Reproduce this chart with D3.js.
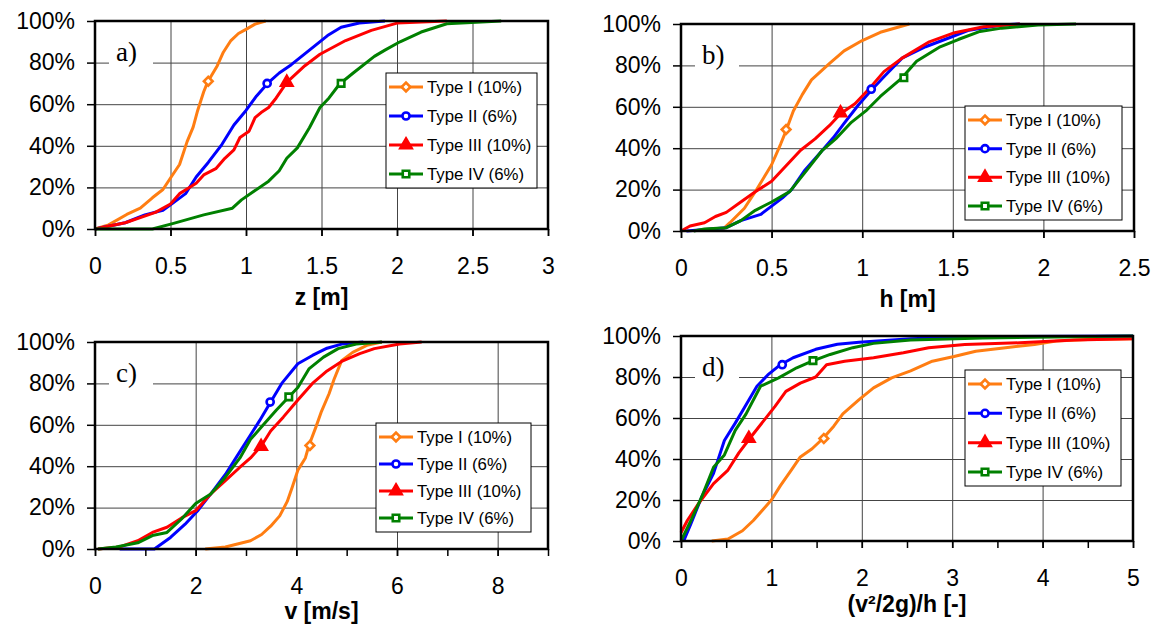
<!DOCTYPE html>
<html>
<head>
<meta charset="utf-8">
<script src="https://cdn.jsdelivr.net/npm/d3@7"></script>
<style>
  body { margin: 0; background: #fff; }
  svg { display: block; font-family: "Liberation Sans", Arial, sans-serif; }
</style>
</head>
<body>
<div id="chart"></div>
<script>
// series names, shared by all four panels
const seriesNames = ["Type I (10%)", "Type II (6%)", "Type III (10%)", "Type IV (6%)"];
const yTicks = [0, 20, 40, 60, 80, 100];

// a) z [m] : [x, cumulative %]
const aTypeI = [[0,0],[0.09,2],[0.21,7],[0.3,10],[0.38,15],[0.45,19],[0.5,24.5],[0.56,31],[0.61,42],[0.65,49],[0.68,57],[0.72,66],[0.745,70.5],[0.81,78.5],[0.85,85],[0.9,90.6],[0.95,94],[1.0,96],[1.06,98.5],[1.13,100]];
const aTypeII = [[0,0],[0.2,3],[0.33,6.8],[0.45,9],[0.5,11.6],[0.6,17],[0.67,25],[0.75,32],[0.84,40.6],[0.92,50],[1.0,57],[1.07,64],[1.15,70.5],[1.22,75],[1.3,79],[1.42,86],[1.54,93],[1.63,97],[1.75,99],[1.92,100]];
const aTypeIII = [[0,0],[0.2,3],[0.4,8],[0.5,12],[0.56,17],[0.62,19.7],[0.67,22],[0.72,26],[0.8,29],[0.86,34],[0.92,38],[0.96,44],[1.02,47],[1.06,53.5],[1.1,56],[1.15,58.4],[1.2,63],[1.27,70.5],[1.39,78.5],[1.49,84],[1.66,90.6],[1.83,95.5],[2.0,99],[2.33,100]];
const aTypeIV = [[0,0],[0.38,0],[0.52,2.7],[0.72,6.8],[0.91,10],[0.97,14],[1.05,18],[1.15,23],[1.22,28],[1.27,34],[1.34,39],[1.42,48.7],[1.49,58.4],[1.55,63],[1.62,69.7],[1.71,75],[1.85,83],[1.92,86],[2.02,90],[2.16,94.7],[2.33,98.7],[2.69,100]];
const aMarkers = [[0.75,71],[1.14,70],[1.27,70.5],[1.63,70]];
const aXTicks = [0, 0.5, 1, 1.5, 2, 2.5, 3];

// b) h [m]
const bTypeI = [[0.22,0],[0.27,4],[0.35,11],[0.41,19],[0.5,32],[0.55,42],[0.58,48.5],[0.62,58],[0.67,66],[0.72,73],[0.82,81],[0.9,87],[1.0,92],[1.1,96],[1.26,100]];
const bTypeII = [[0.03,0],[0.25,1.6],[0.33,5],[0.44,8],[0.5,12],[0.56,16],[0.61,20],[0.68,29],[0.76,37],[0.84,45],[0.9,52],[0.98,61],[1.05,68],[1.12,74.5],[1.22,83.5],[1.35,89],[1.47,93],[1.59,97],[1.77,99.5],[1.87,100]];
const bTypeIII = [[0,0],[0.05,2.4],[0.13,4],[0.19,7],[0.25,9],[0.33,14],[0.41,19],[0.5,24],[0.58,31.5],[0.66,39],[0.74,44.5],[0.82,51],[0.88,56.6],[0.96,61.5],[1.04,68.8],[1.12,77],[1.22,83.5],[1.37,91.4],[1.51,95.8],[1.67,98.7],[1.87,100]];
const bTypeIV = [[0.07,0],[0.13,1],[0.25,1.6],[0.33,5],[0.41,10],[0.5,14],[0.6,19],[0.7,30],[0.78,39],[0.86,45],[0.94,52.5],[1.02,58],[1.1,65],[1.22,74],[1.3,82],[1.43,89],[1.53,92.5],[1.65,96.4],[1.77,98],[1.97,99.5],[2.18,100]];
const bMarkers = [[0.58,49],[1.05,68.5],[0.88,57],[1.23,74]];
const bXTicks = [0, 0.5, 1, 1.5, 2, 2.5];

// c) v [m/s]
const cTypeI = [[2.19,0],[2.59,1],[3.09,4],[3.31,7],[3.49,11],[3.67,16],[3.82,23],[3.92,30],[4.03,38],[4.18,44],[4.25,50],[4.39,59],[4.5,66.5],[4.65,75],[4.75,82],[4.9,91],[5.12,95],[5.4,98.4],[5.7,100]];
const cTypeII = [[0.49,0],[1.18,0],[1.5,5.6],[1.79,12],[2.04,18.5],[2.3,26.6],[2.59,36],[2.8,44],[3.06,54],[3.27,62],[3.49,71],[3.71,80],[4.03,89.5],[4.32,93.5],[4.61,97],[4.9,99],[5.33,100]];
const cTypeIII = [[0.06,0],[0.49,1],[0.85,4],[1.14,8],[1.43,10.5],[1.72,15],[2.0,18.5],[2.3,26.6],[2.59,33],[2.88,39.5],[3.09,44],[3.31,50],[3.49,57],[3.74,63.7],[4.03,72],[4.32,80],[4.61,86],[4.9,90.6],[5.26,94.4],[5.55,96.8],[6.05,99],[6.49,100]];
const cTypeIV = [[0.06,0],[0.42,1],[0.85,3],[1.14,6.5],[1.43,8],[1.72,14.5],[2.0,22],[2.3,26.6],[2.59,34.7],[2.88,44],[3.09,53],[3.31,59],[3.6,67],[3.85,73.4],[4.03,78],[4.25,87],[4.54,92.7],[4.83,96.8],[5.19,99],[5.7,100]];
const cMarkers = [[4.27,50],[3.48,71],[3.3,49.5],[3.85,73.5]];
const cXTicks = [0, 2, 4, 6, 8];
const cXMinor = [0, 1, 2, 3, 4, 5, 6, 7, 8, 9];

// d) (v^2/2g)/h [-]
const dTypeI = [[0.34,0],[0.52,1],[0.68,5],[0.8,10],[0.92,16],[1.0,20],[1.1,27],[1.22,34.6],[1.32,41],[1.45,45],[1.57,50],[1.69,56],[1.79,62],[1.97,69],[2.13,74.7],[2.33,79.6],[2.54,83],[2.78,87.7],[3.02,90],[3.26,92.6],[3.59,94.3],[3.91,95.9],[4.15,97.5],[4.56,98.4],[5.0,98.7]];
const dTypeII = [[0.03,0],[0.11,8.5],[0.23,21.6],[0.36,33],[0.48,49],[0.6,57.5],[0.72,66.5],[0.84,75.5],[0.96,81],[1.1,86],[1.24,89.4],[1.49,93.5],[1.73,96],[1.97,97],[2.54,98.7],[3.34,99.7],[5.0,100]];
const dTypeIII = [[0,4],[0.07,10],[0.19,18],[0.36,28],[0.52,34.6],[0.64,43],[0.76,50],[0.88,56.7],[1.04,65.7],[1.16,73],[1.32,77],[1.49,80],[1.61,86],[1.81,87.7],[2.13,89.4],[2.46,91.8],[2.74,94.3],[3.14,95.9],[3.75,96.7],[4.35,98],[5.0,98.7]];
const dTypeIV = [[0,0],[0.11,10],[0.23,21.6],[0.36,36],[0.48,42],[0.6,54],[0.72,62],[0.88,75.5],[1.08,79.6],[1.28,84.5],[1.45,87.7],[1.65,91],[1.9,94.3],[2.13,96.4],[2.54,98],[3.34,99],[5.0,100]];
const dMarkers = [[1.58,50],[1.12,86],[0.75,50],[1.46,88]];
const dXTicks = [0, 1, 2, 3, 4, 5];
const dXMinor = [0, 0.5, 1, 1.5, 2, 2.5, 3, 3.5, 4, 4.5, 5];

const colors = ["#ff7d12", "#0000ff", "#ff0000", "#008000"];
const symbols = [d3.symbolSquare, d3.symbolCircle, d3.symbolTriangle, d3.symbolSquare];
const symbolSize = [38, 40, 55, 42];
const symbolRotate = [45, 0, 0, 0];
const symbolFill = ["#fff", "#fff", "#ff0000", "#fff"];

const panels = [
  { label: "a)", title: "z [m]", xMax: 3, ticks: aXTicks, minor: aXTicks, grid: aXTicks,
    series: [aTypeI, aTypeII, aTypeIII, aTypeIV], markers: aMarkers,
    x: 95, y: 21, w: 453, h: 208, legend: [291, 52, 151, 115], titleY: 76 },
  { label: "b)", title: "h [m]", xMax: 2.5, ticks: bXTicks, minor: bXTicks, grid: bXTicks,
    series: [bTypeI, bTypeII, bTypeIII, bTypeIV], markers: bMarkers,
    x: 681, y: 24, w: 453, h: 207, legend: [284, 82, 157, 114], titleY: 76 },
  { label: "c)", title: "v [m/s]", xMax: 9, ticks: cXTicks, minor: cXMinor, grid: cXTicks,
    series: [cTypeI, cTypeII, cTypeIII, cTypeIV], markers: cMarkers,
    x: 95, y: 342, w: 453, h: 207, legend: [281, 81, 155, 109], titleY: 70 },
  { label: "d)", title: "(v\u00b2/2g)/h [-]", xMax: 5, ticks: dXTicks, minor: dXMinor, grid: dXTicks,
    series: [dTypeI, dTypeII, dTypeIII, dTypeIV], markers: dMarkers,
    x: 681, y: 336, w: 452, h: 205, legend: [284, 34, 156, 116], titleY: 71 }
];

const svg = d3.select("#chart").append("svg")
  .attr("width", 1154)
  .attr("height", 630);

function marker(sel, i, cx, cy) {
  sel.append("path")
    .attr("d", d3.symbol(symbols[i], symbolSize[i])())
    .attr("transform", `translate(${cx},${cy}) rotate(${symbolRotate[i]})`)
    .attr("fill", symbolFill[i])
    .attr("stroke", colors[i])
    .attr("stroke-width", 2.6);
}

panels.forEach(p => {
  const g = svg.append("g").attr("transform", `translate(${p.x},${p.y})`);
  const x = d3.scaleLinear().domain([0, p.xMax]).range([0, p.w]);
  const y = d3.scaleLinear().domain([0, 100]).range([p.h, 0]);

  // gridlines
  g.append("g")
    .call(d3.axisBottom(x).tickValues(p.grid).tickSize(-p.h).tickFormat(""))
    .attr("transform", `translate(0,${p.h})`)
    .call(a => a.select(".domain").remove())
    .selectAll("line").attr("stroke", "#444").attr("stroke-width", 1);
  g.append("g")
    .call(d3.axisLeft(y).tickValues(yTicks).tickSize(-p.w).tickFormat(""))
    .call(a => a.select(".domain").remove())
    .selectAll("line").attr("stroke", "#444").attr("stroke-width", 1);

  // panel label with white patch over the 80% gridline
  g.append("rect")
    .attr("x", 14).attr("y", 17).attr("width", 44).attr("height", 28)
    .attr("fill", "#fff");
  g.append("text")
    .attr("x", 21).attr("y", 31).attr("dy", "0.35em")
    .attr("font-family", "'Liberation Serif', 'Times New Roman', serif")
    .attr("font-size", 27)
    .text(p.label);

  // curves
  const line = d3.line().x(d => x(d[0])).y(d => y(d[1]));
  p.series.forEach((s, i) => {
    g.append("path")
      .datum(s)
      .attr("d", line)
      .attr("fill", "none")
      .attr("stroke", colors[i])
      .attr("stroke-width", 3)
      .attr("stroke-linejoin", "round");
  });
  p.markers.forEach((m, i) => marker(g, i, x(m[0]), y(m[1])));

  // frame
  g.append("rect")
    .attr("width", p.w).attr("height", p.h)
    .attr("fill", "none").attr("stroke", "#000").attr("stroke-width", 2.5);

  // axes
  const xAxis = g.append("g")
    .attr("transform", `translate(0,${p.h})`)
    .call(d3.axisBottom(x).tickValues(p.ticks).tickSize(7).tickPadding(22).tickFormat(d => String(d)));
  g.append("g")
    .attr("transform", `translate(0,${p.h})`)
    .call(d3.axisBottom(x).tickValues(p.minor).tickSize(7).tickFormat(""))
    .call(a => a.select(".domain").remove());
  const yAxis = g.append("g")
    .call(d3.axisLeft(y).tickValues(yTicks).tickSize(8).tickPadding(12).tickFormat(d => d + "%"));
  [xAxis, yAxis].forEach(a => {
    a.select(".domain").remove();
    a.selectAll("text").attr("font-size", 23).attr("fill", "#000")
      .attr("font-family", "'Liberation Sans', Arial, sans-serif");
  });
  g.selectAll(".tick line").filter(function() { return +d3.select(this).attr("y2") > 0 || +d3.select(this).attr("x2") < 0; })
    .attr("stroke", "#000").attr("stroke-width", 1.5);

  g.append("text")
    .attr("x", p.w / 2).attr("y", p.h + p.titleY)
    .attr("text-anchor", "middle")
    .attr("font-weight", "bold")
    .attr("font-size", 23)
    .text(p.title);

  // legend
  const [lx, ly, lw, lh] = p.legend;
  const lg = g.append("g").attr("transform", `translate(${lx},${ly})`);
  lg.append("rect")
    .attr("width", lw).attr("height", lh)
    .attr("fill", "#fff").attr("stroke", "#000").attr("stroke-width", 1);
  const step = (lh - 28) / 3;
  seriesNames.forEach((name, i) => {
    const cy = 14 + i * step;
    lg.append("line")
      .attr("x1", 3).attr("x2", 37).attr("y1", cy).attr("y2", cy)
      .attr("stroke", colors[i]).attr("stroke-width", 3);
    marker(lg, i, 20, cy);
    lg.append("text")
      .attr("x", 41).attr("y", cy).attr("dy", "0.35em")
      .attr("font-size", 16.8)
      .text(name);
  });
});
</script>
</body>
</html>
